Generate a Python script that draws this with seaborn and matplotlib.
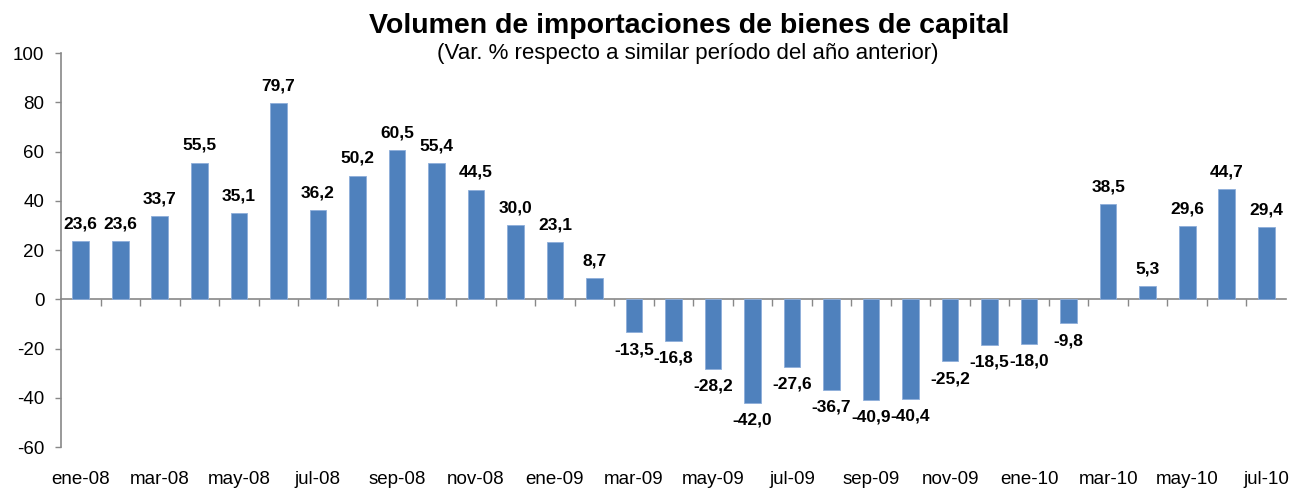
import matplotlib
matplotlib.use("Agg")
import matplotlib.pyplot as plt
import seaborn as sns
import pandas as pd

# Monthly year-on-year change in capital goods import volume
months = [
    "ene-08", "feb-08", "mar-08", "abr-08", "may-08", "jun-08", "jul-08", "ago-08",
    "sep-08", "oct-08", "nov-08", "dic-08",
    "ene-09", "feb-09", "mar-09", "abr-09", "may-09", "jun-09", "jul-09", "ago-09",
    "sep-09", "oct-09", "nov-09", "dic-09",
    "ene-10", "feb-10", "mar-10", "abr-10", "may-10", "jun-10", "jul-10",
]
values = [
    23.6, 23.6, 33.7, 55.5, 35.1, 79.7, 36.2, 50.2, 60.5, 55.4, 44.5, 30.0,
    23.1, 8.7, -13.5, -16.8, -28.2, -42.0, -27.6, -36.7, -40.9, -40.4, -25.2, -18.5,
    -18.0, -9.8, 38.5, 5.3, 29.6, 44.7, 29.4,
]
y_ticks = [-60, -40, -20, 0, 20, 40, 60, 80, 100]

title = "Volumen de importaciones de bienes de capital"
subtitle = "(Var. % respecto a similar período del año anterior)"

sns.set_style("ticks")
plt.rcParams["font.family"] = ["Liberation Sans", "DejaVu Sans"]
plt.rcParams["text.color"] = "black"
plt.rcParams["xtick.labelcolor"] = "black"
plt.rcParams["ytick.labelcolor"] = "black"

df = pd.DataFrame({"mes": months, "var": values})

fig = plt.figure(figsize=(12.9, 4.88), dpi=100)
ax = fig.add_axes([61 / 1290, 1 - 447 / 488, (1286 - 61) / 1290, (447 - 53) / 488])

bar_color = "#4F81BD"
sns.barplot(data=df, x="mes", y="var", color=bar_color, width=0.42,
            edgecolor="#8EAEDA", linewidth=0.6, saturation=1, ax=ax)

n = len(months)
ax.set_xlim(-0.5, n - 0.5)
ax.set_ylim(y_ticks[0], y_ticks[-1])
ax.set_yticks(y_ticks)
ax.set_yticklabels([str(t) for t in y_ticks], fontsize=13.5)
ax.set_xlabel("")
ax.set_ylabel("")

# Category labels every other month, at the bottom of the plot area
ax.set_xticks(range(0, n, 2))
ax.set_xticklabels(months[::2], fontsize=13.5)
ax.tick_params(axis="x", length=0, pad=17)
ax.tick_params(axis="y", length=4, width=1, color="#888888", pad=8)

for side in ["top", "right", "bottom"]:
    ax.spines[side].set_visible(False)
ax.spines["left"].set_color("#888888")
ax.spines["left"].set_linewidth(1.2)

# Category axis line at zero with boundary tick marks
zero_frac = (0 - y_ticks[0]) / (y_ticks[-1] - y_ticks[0])
sec = ax.secondary_xaxis(zero_frac)
sec.set_xticks([i + 0.5 for i in range(n - 1)])
sec.set_xticklabels([])
sec.tick_params(axis="x", direction="out", length=5, width=1, color="#888888",
                bottom=True, top=False)
sec.spines["bottom"].set_color("#888888")
sec.spines["bottom"].set_linewidth(1.2)
sec.spines["top"].set_visible(False)

# Value labels
for i, v in enumerate(values):
    label = f"{v:.1f}".replace(".", ",")
    if v >= 0:
        ax.annotate(label, (i, v), xytext=(0, 7), textcoords="offset points",
                    ha="center", va="bottom", fontsize=12.5, fontweight="bold")
    else:
        ax.annotate(label, (i, v), xytext=(0, -7), textcoords="offset points",
                    ha="center", va="top", fontsize=12.5, fontweight="bold")

fig.text(0.534, 1 - 26 / 488, title, ha="center", va="center",
         fontsize=20.5, fontweight="bold")
fig.text(0.533, 1 - 53 / 488, subtitle, ha="center", va="center", fontsize=16)

fig.savefig("out.png", dpi=100, facecolor="white")
